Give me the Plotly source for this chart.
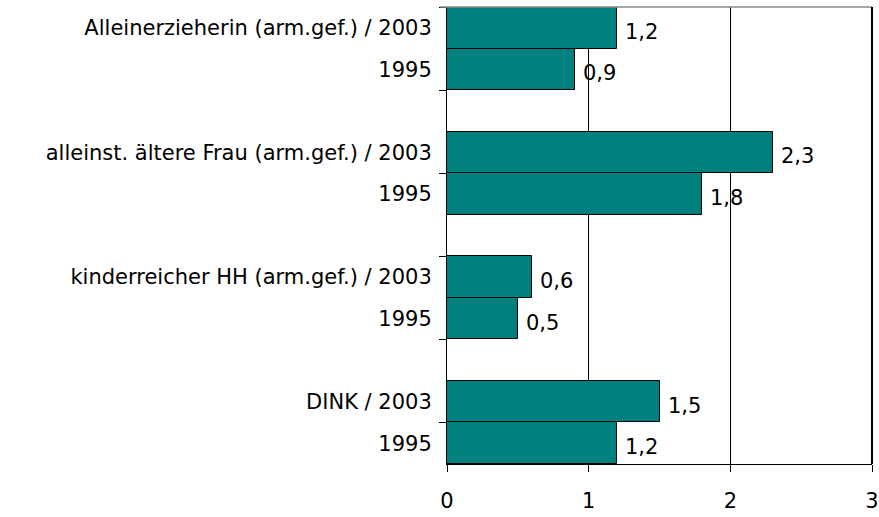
import plotly.graph_objects as go

# Data (top to bottom), None = empty slot between groups
labels = ["Alleinerzieherin (arm.gef.) / 2003", "1995", "",
          "alleinst. ältere Frau (arm.gef.) / 2003", "1995", "",
          "kinderreicher HH (arm.gef.) / 2003", "1995", "",
          "DINK / 2003", "1995"]
values = [1.2, 0.9, None, 2.3, 1.8, None, 0.6, 0.5, None, 1.5, 1.2]
x_ticks = [0, 1, 2, 3]

pos = list(range(len(labels)))
bar_pos = [p for p, v in zip(pos, values) if v is not None]
bar_val = [v for v in values if v is not None]
bar_lab = [l for l, v in zip(labels, values) if v is not None]
boundaries = [p - 0.5 for p in pos[::2]]

FONT = "DejaVu Sans"
FS = 21
fig = go.Figure()
fig.add_trace(go.Bar(
    x=bar_val, y=bar_pos, orientation="h", width=1,
    marker=dict(color="#007f7f", line=dict(color="black", width=1)),
    showlegend=False, hoverinfo="skip",
))
# invisible trace for second y axis (ticks at group boundaries)
fig.add_trace(go.Scatter(x=[None], y=[None], yaxis="y2", showlegend=False))

for p, v in zip(bar_pos, bar_val):
    fig.add_annotation(x=v, y=p, text=f"{v:.1f}".replace(".", ","),
                       xanchor="left", yanchor="middle", xshift=6, yshift=-4,
                       showarrow=False, font=dict(family=FONT, size=FS, color="black"))

yrange = [len(labels) - 0.5, -0.5]
fig.update_layout(
    width=879, height=517,
    margin=dict(l=447, r=7, t=7, b=53, autoexpand=False),
    plot_bgcolor="white", paper_bgcolor="white",
    font=dict(family=FONT, size=FS, color="black"),
    bargap=0,
    xaxis=dict(range=[0, 3], tickvals=x_ticks, ticktext=[str(t) for t in x_ticks],
               showgrid=True, gridcolor="black", gridwidth=1, automargin=False,
               zeroline=False, showline=True, linecolor="black", linewidth=1,
               ticks="outside", ticklen=7, tickcolor="black",
               ticklabelstandoff=11, tickfont=dict(size=FS)),
    yaxis=dict(range=yrange, tickvals=bar_pos, ticktext=bar_lab, automargin=False,
               showgrid=False, zeroline=False, showline=True, linecolor="black",
               linewidth=1, ticks="", ticklabelstandoff=10, tickfont=dict(size=FS)),
    yaxis2=dict(range=yrange, overlaying="y", side="left", tickvals=boundaries,
                showticklabels=False, ticks="outside", ticklen=7, tickcolor="black",
                showgrid=False, zeroline=False, showline=False, automargin=False),
)
# plot-area frame: gray top line, black right line
fig.add_shape(type="line", xref="paper", yref="paper", x0=-0.016, x1=1, y0=1, y1=1,
              line=dict(color="#888888", width=1.5))
fig.add_shape(type="line", xref="paper", yref="paper", x0=1, x1=1, y0=0, y1=1,
              line=dict(color="black", width=2))

fig.write_html("out.html", config={"displayModeBar": False},
               post_script="document.body.style.margin='0';document.body.style.overflow='hidden';")
